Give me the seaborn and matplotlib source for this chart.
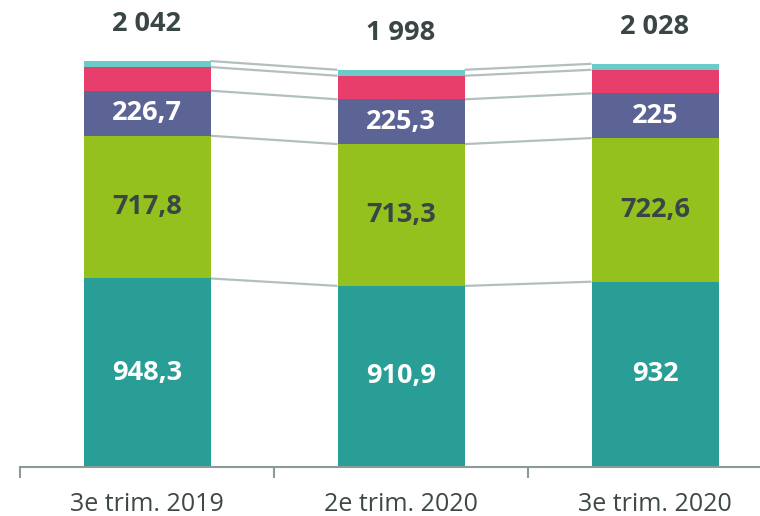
import numpy as np
import matplotlib
matplotlib.use("Agg")
import matplotlib.pyplot as plt
import seaborn as sns

sns.set_theme(style="white")
plt.rcParams['font.family'] = ["Open Sans", 'DejaVu Sans']

categories = ["3e trim. 2019", "2e trim. 2020", "3e trim. 2020"]
teal_vals = [948.3, 910.9, 932.0]
green_vals = [717.8, 713.3, 722.6]
purple_vals = [226.7, 225.3, 225.0]
red_vals = [119.0, 118.5, 118.4]
cyan_vals = [30.2, 30.0, 30.0]
teal_labels = ["948,3", "910,9", "932"]
green_labels = ["717,8", "713,3", "722,6"]
purple_labels = ["226,7", "225,3", "225"]
totals = [2042, 1998, 2028]
total_labels = ["2 042", "1 998", "2 028"]

series = [
    (teal_vals, "#289e96", teal_labels, "white"),
    (green_vals, "#95c11f", green_labels, "#3a4646"),
    (purple_vals, "#5c6496", purple_labels, "white"),
    (red_vals, "#e83e6c", None, None),
    (cyan_vals, "#6ccac8", None, None),
]

fig = plt.figure(figsize=(7.6, 5.16), dpi=100)
ax = fig.add_axes([20 / 760, 49 / 516, 762 / 760, 467 / 516])

bottom = np.zeros(len(categories))
bounds = []
for vals, col, labels, tcol in series:
    vals = np.array(vals)
    sns.barplot(x=categories, y=vals, bottom=bottom, color=col, saturation=1,
                width=0.5, ax=ax, edgecolor="none", linewidth=0)
    if labels is not None:
        for i, lab in enumerate(labels):
            ax.text(i, bottom[i] + vals[i] / 2, lab, ha="center", va="center",
                    color=tcol, fontsize=19.5, fontweight="bold")
    bottom = bottom + vals
    bounds.append(bottom.copy())

# connector lines between bars
for b in bounds:
    for i in range(len(categories) - 1):
        ax.plot([i + 0.25, i + 1 - 0.25], [b[i], b[i + 1]], color="#b3bfbf",
                lw=1.6, zorder=0.5, solid_capstyle="butt")

for i, lab in enumerate(total_labels):
    ax.text(i, bottom[i] + 185, lab, ha="center", va="center",
            color="#3a4646", fontsize=19.5, fontweight="bold")

ax.set_xlim(-0.5, 2.5)
ax.set_ylim(0, 2349)
ax.set_yticks([])
ax.set_ylabel("")
for s in ["left", "right", "top"]:
    ax.spines[s].set_visible(False)
ax.spines["bottom"].set_color("#8c9a9a")
ax.spines["bottom"].set_linewidth(1.5)
ax.set_xticks([0, 1, 2])
ax.set_xticklabels(categories, fontsize=18, color="#3f4848")
ax.tick_params(axis="x", which="major", length=0, pad=18)
ax.set_xticks([-0.5, 0.5, 1.5, 2.5], minor=True)
ax.tick_params(axis="x", which="minor", length=8, width=1.5, color="#8c9a9a",
               direction="out", bottom=True)

fig.savefig("out.png", dpi=100)
